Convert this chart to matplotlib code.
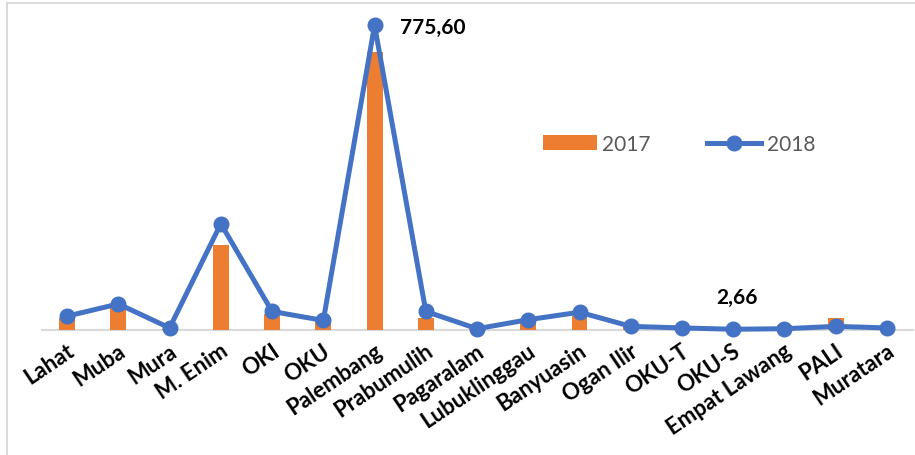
import matplotlib
matplotlib.use("Agg")
import matplotlib.pyplot as plt
from matplotlib.lines import Line2D
from matplotlib.patches import Patch
from matplotlib.transforms import ScaledTranslation
import numpy as np

regions = ["Lahat", "Muba", "Mura", "M. Enim", "OKI", "OKU", "Palembang",
           "Prabumulih", "Pagaralam", "Lubuklinggau", "Banyuasin", "Ogan Ilir",
           "OKU-T", "OKU-S", "Empat Lawang", "PALI", "Muratara"]
values_2017 = [31, 56, 4, 216, 41, 27, 708, 32, 3, 28, 36, 8, 5, 3, 14, 31, 3]
values_2018 = [36, 67, 6, 271, 48, 25, 775.60, 48, 4, 27, 46, 10, 6, 2.66, 4, 10, 6]

ORANGE = "#ED7D31"
BLUE = "#4472C4"
AXIS_GRAY = "#D9D9D9"
TEXT_GRAY = "#595959"
FONT = ["Lato", "DejaVu Sans"]

fig = plt.figure(figsize=(9.15, 4.56), dpi=100)
W, H = 915, 456

# chart area frame (left and top edges)
fig.add_artist(Line2D([7 / W, 7 / W], [0, 1 - 4 / H], transform=fig.transFigure,
                      color=AXIS_GRAY, lw=1.3))
fig.add_artist(Line2D([7 / W, 1], [1 - 4 / H, 1 - 4 / H], transform=fig.transFigure,
                      color=AXIS_GRAY, lw=1.3))

left, right = 41.5 / W, 912.6 / W
bottom = (H - 331.3) / H
ymax = 800
height = (305 / 775.6 * ymax) / H
ax = fig.add_axes([left, bottom, right - left, height])

x = np.arange(len(regions))
ax.bar(x, values_2017, width=0.31, color=ORANGE, zorder=2, label="2017")
ax.plot(x, values_2018, color=BLUE, lw=3.6, marker="o", markersize=10.5,
        zorder=3, label="2018", clip_on=False)

ax.set_xlim(-0.5, len(regions) - 0.5)
ax.set_ylim(0, ymax)
ax.set_yticks([])
for s in ["top", "right", "left"]:
    ax.spines[s].set_visible(False)
ax.spines["bottom"].set_color(AXIS_GRAY)
ax.spines["bottom"].set_linewidth(1.5)
ax.spines["bottom"].set_zorder(1)

ax.set_xticks(x)
ax.set_xticklabels(regions, rotation=34, ha="right", va="center",
                   rotation_mode="anchor", fontsize=16, fontweight="bold",
                   family=FONT)
ax.tick_params(axis="x", length=0, pad=13)
shift = ScaledTranslation(5 / 100, 0, fig.dpi_scale_trans)
for lbl in ax.get_xticklabels():
    lbl.set_transform(lbl.get_transform() + shift)

# data labels for the highest and lowest 2018 values
i_max = int(np.argmax(values_2018))
i_min = int(np.argmin(values_2018))
ax.annotate(f"{values_2018[i_max]:.2f}".replace(".", ","), (x[i_max], values_2018[i_max]),
            xytext=(18, -1), textcoords="offset points", ha="left", va="center",
            fontsize=15, fontweight="bold", family=FONT)
ax.annotate(f"{values_2018[i_min]:.2f}".replace(".", ","), (x[i_min], values_2018[i_min]),
            xytext=(3, 23), textcoords="offset points", ha="center", va="center",
            fontsize=15, fontweight="bold", family=FONT)

handles = [Patch(facecolor=ORANGE, edgecolor="none"),
           Line2D([0], [0], color=BLUE, lw=3.6, marker="o", markersize=10.5)]
leg = fig.legend(handles, ["2017", "2018"], loc="center", bbox_to_anchor=(679 / W, 1 - 145 / H),
                 ncol=2, frameon=False, prop={"family": FONT, "size": 15},
                 handlelength=2.6, handletextpad=0.25, columnspacing=2.7)
for t in leg.get_texts():
    t.set_color(TEXT_GRAY)

fig.savefig("out.png", dpi=100)
